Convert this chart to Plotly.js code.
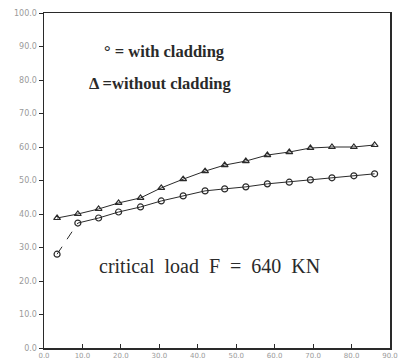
<!DOCTYPE html>
<html>
<head>
<meta charset="utf-8">
<script src="https://cdn.plot.ly/plotly-3.0.1.min.js"></script>
<style>html,body{margin:0;padding:0;background:#fff;}#chart{width:398px;height:362px;}</style>
</head>
<body>
<div id="chart"></div>
<script>
// Data
const xValues = [3.4, 8.8, 14.2, 19.4, 25.1, 30.5, 36.2, 41.9, 47.0, 52.5, 58.1, 63.8, 69.3, 74.9, 80.6, 86.0];
const withoutCladding = [38.8, 40.0, 41.5, 43.3, 44.8, 47.8, 50.4, 52.8, 54.6, 55.8, 57.6, 58.5, 59.7, 60.0, 60.0, 60.6];
const withCladding = [28.0, 37.3, 38.8, 40.6, 42.1, 43.9, 45.4, 46.9, 47.5, 48.1, 49.0, 49.5, 50.2, 50.8, 51.4, 52.0];
const xTickVals = [0, 10, 20, 30, 40, 50, 60, 70, 80, 90];
const xTickText = ["0.0", "10.0", "20.0", "30.0", "40.0", "50.0", "60.0", "70.0", "80.0", "90.0"];
const yTickVals = [0, 10, 20, 30, 40, 50, 60, 70, 80, 90, 100];
const yTickText = ["0.0", "10.0", "20.0", "30.0", "40.0", "50.0", "60.0", "70.0", "80.0", "90.0", "100.0"];
const labelWith = "° = with cladding";
const labelWithout = "Δ =without cladding";
const labelLoad = "critical  load  F  =  640  KN";

const ink = "#2a2a2a";
const traces = [
  {
    x: xValues, y: withoutCladding, mode: "lines+markers", type: "scatter",
    line: {color: ink, width: 1},
    marker: {symbol: "triangle-up-open", size: 6, color: ink, line: {width: 1.2, color: ink}},
    hoverinfo: "skip"
  },
  {
    x: xValues.slice(0, 2), y: withCladding.slice(0, 2), mode: "lines", type: "scatter",
    line: {color: ink, width: 1, dash: "dash"}, hoverinfo: "skip"
  },
  {
    x: xValues.slice(1), y: withCladding.slice(1), mode: "lines", type: "scatter",
    line: {color: ink, width: 1}, hoverinfo: "skip"
  },
  {
    x: xValues, y: withCladding, mode: "markers", type: "scatter",
    marker: {symbol: "circle-open", size: 6, color: ink, line: {width: 1.2, color: ink}},
    hoverinfo: "skip"
  }
];

const tickFont = {family: "DejaVu Sans", size: 8, color: "#9a9a9a"};
const layout = {
  width: 398, height: 362,
  margin: {l: 44, r: 8, t: 13, b: 14},
  paper_bgcolor: "#ffffff", plot_bgcolor: "#ffffff",
  showlegend: false,
  xaxis: {
    range: [0, 90], tickvals: xTickVals, ticktext: xTickText,
    ticks: "inside", ticklen: 4, tickcolor: ink, tickfont: {family: "DejaVu Sans", size: 7, color: "#9a9a9a"},
    ticklabeloverflow: "allow", ticklabelstandoff: 0,
    showgrid: false, zeroline: false, showline: true, linecolor: ink, linewidth: 1.5, mirror: true
  },
  yaxis: {
    range: [0, 100], tickvals: yTickVals, ticktext: yTickText,
    ticks: "outside", ticklen: 4, tickcolor: ink, tickfont: tickFont, ticklabeloverflow: "allow",
    showgrid: false, zeroline: false, showline: true, linecolor: ink, linewidth: 1.5, mirror: true
  },
  annotations: [
    {x: 15.2, y: 88.4, xref: "x", yref: "y", xanchor: "left", yanchor: "middle", showarrow: false,
     text: labelWith, font: {family: "Liberation Serif", size: 16.5, color: ink, weight: "bold"}},
    {x: 11.1, y: 78.9, xref: "x", yref: "y", xanchor: "left", yanchor: "middle", showarrow: false,
     text: labelWithout, font: {family: "Liberation Serif", size: 16.5, color: ink, weight: "bold"}},
    {x: 13.7, y: 24.4, xref: "x", yref: "y", xanchor: "left", yanchor: "middle", showarrow: false,
     text: labelLoad, font: {family: "Liberation Serif", size: 20, color: ink}}
  ]
};
Plotly.newPlot("chart", traces, layout, {staticPlot: true, displayModeBar: false});
</script>
</body>
</html>
